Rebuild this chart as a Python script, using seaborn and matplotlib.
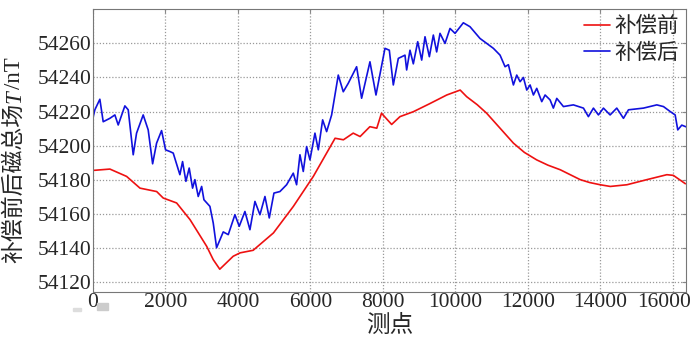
import numpy as np
import pandas as pd
import seaborn as sns
import matplotlib.pyplot as plt
from matplotlib.patches import Rectangle
from matplotlib.transforms import ScaledTranslation

# 补偿前 (before compensation)
before_x = [0, 470, 930, 1300, 1760, 1940, 2310, 2680, 2900, 3140, 3320, 3500, 3870,
            4060, 4420, 4980, 5530, 6080, 6680, 6910, 7180, 7370, 7640, 7830, 7960,
            8240, 8470, 8840, 9280, 9760, 10130, 10310, 10600, 10860, 11600, 11900,
            12240, 12550, 12890, 13440, 13700, 13990, 14270, 14730, 15280, 15830,
            16010, 16340]
before_y = [54185.4, 54186.2, 54181.9, 54175.0, 54173.0, 54169.2, 54166.3, 54156.5,
            54149.0, 54140.8, 54133.0, 54127.4, 54135.0, 54137.0, 54138.5, 54148.7,
            54164.3, 54181.9, 54204.3, 54203.4, 54207.3, 54205.3, 54211.1, 54210.2,
            54219.0, 54212.4, 54217.0, 54219.9, 54224.5, 54229.7, 54232.6, 54228.7,
            54224.0, 54219.0, 54201.4, 54196.0, 54191.6, 54188.5, 54185.8, 54180.0,
            54178.3, 54177.0, 54176.0, 54177.0, 54180.0, 54182.9, 54182.5, 54177.6]

# 补偿后 (after compensation)
after_x = [0, 55, 193, 285, 469, 607, 699, 883, 975, 1113, 1205, 1388, 1526, 1648,
           1757, 1895, 2005, 2124, 2216, 2400, 2474, 2566, 2657, 2750, 2814, 2906,
           3000, 3063, 3228, 3320, 3412, 3596, 3734, 3918, 4037, 4194, 4332, 4470,
           4608, 4746, 4865, 4994, 5159, 5343, 5527, 5619, 5711, 5803, 5895, 5987,
           6125, 6217, 6337, 6447, 6585, 6768, 6906, 7044, 7274, 7412, 7642, 7808,
           8056, 8176, 8286, 8424, 8608, 8654, 8746, 8838, 8959, 9069, 9160, 9280,
           9390, 9482, 9574, 9712, 9850, 9988, 10217, 10401, 10677, 11046, 11230,
           11368, 11460, 11598, 11690, 11782, 11874, 11966, 12058, 12150, 12242,
           12380, 12472, 12610, 12700, 12794, 12978, 13252, 13530, 13666, 13805,
           13943, 14081, 14265, 14449, 14633, 14771, 15185, 15553, 15737, 15921,
           16059, 16131, 16241, 16361]
after_y = [54216.0, 54221.0, 54227.2, 54214.0, 54216.0, 54218.0, 54212.1, 54223.3,
           54221.0, 54194.6, 54207.3, 54218.0, 54209.2, 54189.3, 54201.4, 54208.8,
           54197.5, 54196.5, 54195.6, 54182.9, 54190.6, 54179.0, 54186.8, 54175.0,
           54180.0, 54170.1, 54176.0, 54168.2, 54164.3, 54154.5, 54140.0, 54149.3,
           54147.7, 54159.4, 54152.6, 54161.3, 54150.6, 54167.2, 54159.4, 54170.1,
           54157.5, 54172.1, 54173.0, 54177.0, 54183.8, 54177.0, 54194.6, 54184.8,
           54199.4, 54191.6, 54207.3, 54197.5, 54215.1, 54208.2, 54218.0, 54241.4,
           54231.6, 54236.6, 54246.3, 54227.8, 54249.2, 54229.7, 54257.1, 54256.0,
           54235.6, 54251.2, 54253.1, 54244.4, 54256.0, 54248.0, 54261.0, 54250.2,
           54263.9, 54252.2, 54264.9, 54255.0, 54265.9, 54260.0, 54268.8, 54265.9,
           54272.1, 54269.8, 54262.9, 54257.1, 54253.1, 54246.3, 54247.5, 54235.6,
           54241.4, 54237.5, 54240.0, 54232.6, 54235.6, 54229.7, 54233.6, 54225.8,
           54229.7, 54226.8, 54222.0, 54227.7, 54222.9, 54223.9, 54222.0, 54217.0,
           54222.0, 54218.0, 54222.0, 54218.0, 54222.0, 54216.0, 54221.0, 54222.0,
           54223.9, 54222.9, 54220.0, 54218.0, 54209.2, 54212.0, 54211.0]

x_ticks = list(range(0, 16001, 2000))
y_ticks = list(range(54120, 54261, 20))

df = pd.concat([
    pd.DataFrame({"测点": before_x, "T": before_y, "series": "补偿前"}),
    pd.DataFrame({"测点": after_x, "T": after_y, "series": "补偿后"}),
])

sns.set_style("white")
plt.rcParams["font.family"] = ["Liberation Serif", "Noto Sans CJK SC"]

fig = plt.figure(figsize=(6.93, 3.46), dpi=100)
ax = fig.add_axes([0.134, 0.156, 0.856, 0.817])

sns.lineplot(data=df, x="测点", y="T", hue="series", estimator=None, sort=False,
             palette={"补偿前": "#ee1111", "补偿后": "#1111dd"}, linewidth=1.2, ax=ax)

ax.set_xlim(0, 16360)
ax.set_ylim(54114, 54280)
ax.set_xticks(x_ticks)
ax.set_yticks(y_ticks)
ax.tick_params(labelsize=15.5, direction="in", length=3, color="#888888",
               top=True, right=True, pad=1)
ax.grid(True, linestyle=(0, (1, 1.5)), color="#999999", linewidth=0.9)
for s in ax.spines.values():
    s.set_color("#777777")
    s.set_linewidth(0.8)

# last x tick label squeezed in from the right edge, as in the source
last = ax.get_xticklabels()[-1]
last.set_transform(last.get_transform() + ScaledTranslation(-9 / 100, 0, fig.dpi_scale_trans))

ax.set_xlabel("测点", fontsize=17, labelpad=2)
ax.set_ylabel("")

ax.legend(loc="upper right", frameon=False, fontsize=15.5, handlelength=1.2,
          handletextpad=0.2, borderaxespad=0.25, labelspacing=0.3, borderpad=0.1)

# y label with italic T, built from pieces stacked upward
renderer = fig.canvas.get_renderer()
ypos = 83
for txt, sty in [("补偿前后磁总场", "normal"), ("T", "italic"), ("/nT", "normal")]:
    t = fig.text(20 / 693, ypos / 346, txt, rotation=90, rotation_mode="anchor",
                 ha="left", va="baseline", fontsize=16.5, style=sty)
    ypos = t.get_window_extent(renderer).y1 + (1 if sty == "italic" else 0)

# small grey scan artefacts under the origin
fig.patches.append(Rectangle((97 / 693, 1 - 310 / 346), 11 / 693, 7 / 346,
                             transform=fig.transFigure, color="#cccccc", zorder=5))
fig.patches.append(Rectangle((73 / 693, 1 - 311 / 346), 8 / 693, 3 / 346,
                             transform=fig.transFigure, color="#dddddd", zorder=5))

fig.savefig("out.png", dpi=100)
